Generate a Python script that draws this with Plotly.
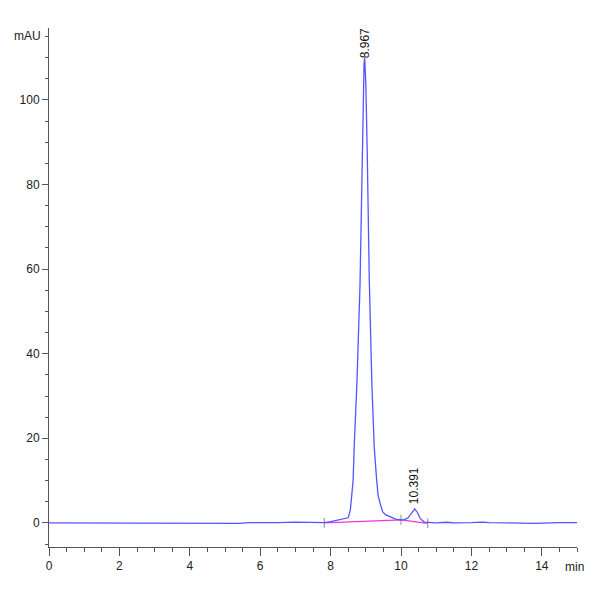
import plotly.graph_objects as go

# signal (min, mAU)
time_min = [0.0, 0.5, 1.0, 1.8, 3.0, 4.0, 5.4, 5.7, 6.0, 6.5, 7.0, 7.3, 7.6,
            7.82, 8.0, 8.2, 8.35, 8.45, 8.5, 8.56, 8.6, 8.64, 8.67, 8.75,
            8.835, 8.9, 8.93, 8.95, 8.967, 8.985, 9.0, 9.04, 9.1, 9.17, 9.24,
            9.31, 9.35, 9.41, 9.48, 9.57, 9.72, 9.85, 10.0, 10.09, 10.2,
            10.3, 10.391, 10.47, 10.55, 10.66, 10.8, 11.0, 11.3, 11.5, 12.0,
            12.3, 12.5, 13.0, 13.3, 13.8, 14.5, 15.0]
signal_mau = [0.0, 0.0, -0.05, -0.1, -0.15, -0.15, -0.1, 0.05, 0.0, 0.05,
              0.2, 0.15, 0.1, 0.05, 0.3, 0.6, 0.85, 1.0, 1.2, 3.0, 6.0, 10.0,
              17.8, 33.6, 56.0, 88.0, 102.0, 108.5, 110.0, 108.0, 104.0, 88.0,
              57.0, 33.6, 17.8, 10.0, 6.5, 4.5, 2.6, 1.9, 1.3, 0.9, 0.7, 0.7,
              1.2, 2.2, 3.3, 2.4, 1.0, 0.2, 0.1, 0.0, 0.15, 0.0, 0.05, 0.2,
              0.05, -0.05, -0.15, -0.1, 0.05, 0.05]

# integration baseline and its event marks
base_t = [7.82, 10.0, 10.76]
base_v = [0.0, 0.7, -0.1]

# peak labels
peak_t = [8.967, 10.391]
peak_v = [110.0, 3.3]
peak_txt = ["8.967", "10.391"]
peak_gap = [-3, 3]

x_ticks = [0, 2, 4, 6, 8, 10, 12, 14]
y_ticks = [0, 20, 40, 60, 80, 100]

font = "Liberation Sans Narrow, Liberation Sans, Arial"

fig = go.Figure()

fig.add_trace(go.Scatter(x=base_t, y=base_v, mode="lines+markers",
                         line=dict(color="#F035E0", width=1.3),
                         marker=dict(symbol="line-ns", size=7,
                                     line=dict(color="#888888", width=1)),
                         hoverinfo="skip"))

fig.add_trace(go.Scatter(x=time_min, y=signal_mau, mode="lines",
                         line=dict(color="rgb(85,85,255)", width=1.3)))

for t, v, s, g in zip(peak_t, peak_v, peak_txt, peak_gap):
    fig.add_annotation(x=t, y=v, text=s, textangle=-90, showarrow=False,
                       xanchor="center", yanchor="bottom", yshift=g,
                       font=dict(family="Liberation Sans, Arial", size=12,
                                 color="#111111"))

# axis unit labels
fig.add_annotation(x=0, xref="paper", y=115, yref="y", text="mAU",
                   showarrow=False, xanchor="right", xshift=-6,
                   font=dict(family=font, size=12, color="#222222"))
fig.add_annotation(x=14.6, xref="x", y=0, yref="paper", text="min",
                   showarrow=False, xanchor="left", yanchor="top", yshift=-11,
                   font=dict(family=font, size=12, color="#222222"))

fig.update_xaxes(range=[0, 15], tickvals=x_ticks, showline=True,
                 linecolor="#555555", linewidth=1, ticks="outside",
                 ticklen=8, tickcolor="#555555", showgrid=False,
                 zeroline=False,
                 minor=dict(dtick=0.5, ticks="outside", ticklen=4,
                            tickcolor="#555555"),
                 tickfont=dict(family=font, size=12, color="#222222"))
fig.update_yaxes(range=[-5.7, 117], tickvals=y_ticks, showline=True,
                 linecolor="#555555", linewidth=1, ticks="outside",
                 ticklen=6, tickcolor="#555555", showgrid=False,
                 zeroline=False,
                 minor=dict(dtick=5, ticks="outside", ticklen=3,
                            tickcolor="#555555"),
                 tickfont=dict(family=font, size=12, color="#222222"))

fig.update_layout(width=600, height=600, showlegend=False,
                  plot_bgcolor="white", paper_bgcolor="white",
                  margin=dict(l=41, r=31, t=20, b=61))

fig.write_html("out.html")
